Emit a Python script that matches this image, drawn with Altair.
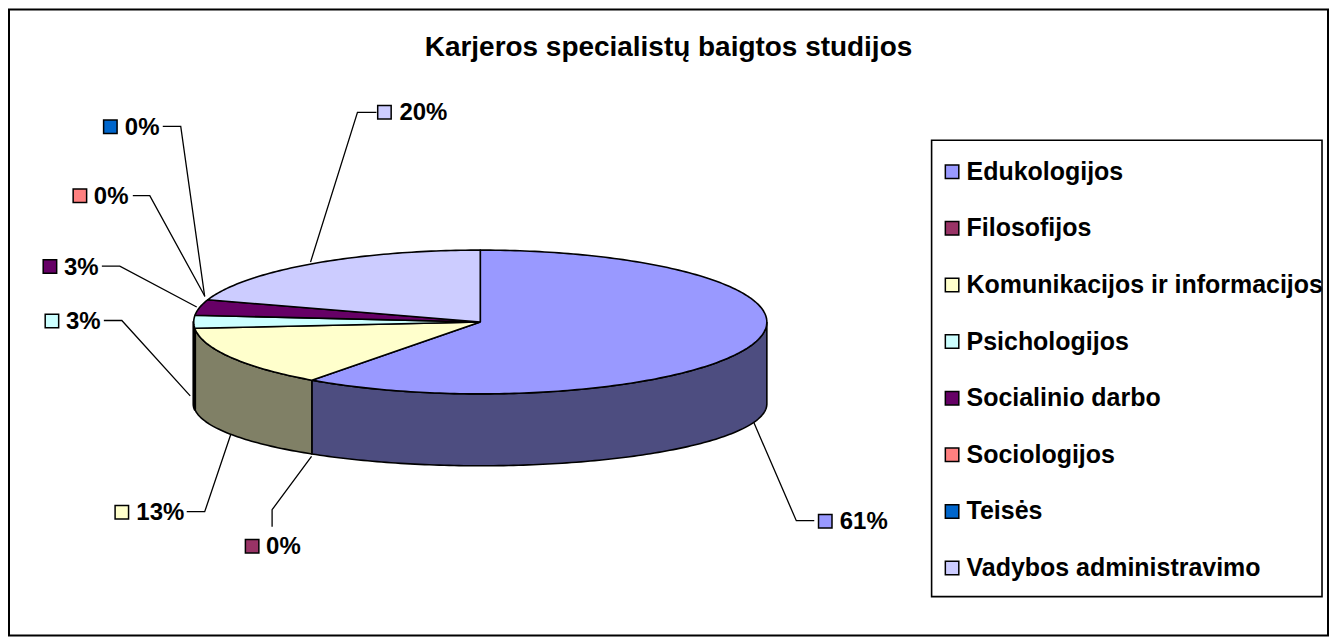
import math
import altair as alt
import pandas as pd

TITLE = "Karjeros specialistų baigtos studijos"
names = ["Edukologijos", "Filosofijos", "Komunikacijos ir informacijos", "Psichologijos",
         "Socialinio darbo", "Sociologijos", "Teisės", "Vadybos administravimo"]
shares = [60.0, 0.0, 13.6, 2.9, 3.5, 0.0, 0.0, 20.0]
labels = ["61%", "0%", "13%", "3%", "3%", "0%", "0%", "20%"]
top_colors = ["#9999FF", "#993366", "#FFFFCC", "#CCFFFF", "#660066", "#FF8080", "#0066CC", "#CCCCFF"]
wall_colors = ["#4D4D80", "#4D1A33", "#808066", "#668080", "#330033", "#804040", "#003366", "#666680"]

# label placement, in picture coordinates
swatch_x = [826.5, 252.5, 122, 52, 50, 80, 110.5, 385]
swatch_y = [521.5, 546.5, 512.5, 321, 266.5, 195.5, 126.5, 112]
text_x = [841, 266.5, 136.5, 66, 64, 94, 125, 400]
leader_x = [[815.5, 797.5, 754], [272.5, 272.5, 312], [187, 205, 231], [104, 122, 190.5],
            [102, 120, 197], [133, 150, 205], [163, 181, 205], [377, 358, 311]]
leader_y = [[521, 521, 420.5], [527, 510, 456.5], [512, 512, 435], [320.5, 320.5, 396],
            [266, 266, 307], [195.5, 195.5, 296], [126, 126, 296.5], [112, 112, 262]]

W, H = 1323, 629
CX, CY, A, B = 481, 322, 287, 72
BOT_CY, BOT_B = 404, 62
sx = alt.Scale(domain=[8, 8 + W], range=[0, W], nice=False, zero=False)
sy = alt.Scale(domain=[8, 8 + H], range=[0, H], nice=False, zero=False)
X = alt.X("x:Q", scale=sx, axis=None)
Y = alt.Y("y:Q", scale=sy, axis=None)


def top_pt(t):
    r = math.radians(t)
    return CX + A * math.sin(r), CY - B * math.cos(r)


def bot_pt(t):
    r = math.radians(t)
    return CX + A * math.sin(r), BOT_CY - BOT_B * math.cos(r)


def poly(points, fill, width=1.6):
    df = pd.DataFrame(points, columns=["x", "y"])
    df["i"] = range(len(df))
    return alt.Chart(df).mark_line(
        fill=fill, stroke="black", strokeWidth=width, strokeJoin="round", interpolate="linear"
    ).encode(x=X, y=Y, order="i:Q")


def arc(a0, a1, fn):
    n = max(2, int(abs(a1 - a0)) + 1)
    return [fn(a0 + (a1 - a0) * k / n) for k in range(n + 1)]


bounds = [0.0]
for s in shares:
    bounds.append(bounds[-1] + s * 3.6)

walls, tops = [], []
for i, s in enumerate(shares):
    if s <= 0:
        continue
    a0, a1 = bounds[i], bounds[i + 1]
    w0, w1 = max(a0, 90), min(a1, 270)
    if w1 > w0:
        pts = arc(w0, w1, top_pt) + arc(w1, w0, bot_pt)
        walls.append(poly(pts + pts[:1], wall_colors[i], 2.6 if w1 - w0 < 10 else 1.6))
    pts = [(CX, CY)] + arc(a0, a1, top_pt) + [(CX, CY)]
    tops.append(poly(pts, top_colors[i]))

frame = alt.Chart(pd.DataFrame({"x": [9], "x2": [1330], "y": [9], "y2": [636]})).mark_rect(
    fill="white", stroke="black", strokeWidth=2
).encode(x=X, x2="x2:Q", y=Y, y2="y2:Q")

legend_box = alt.Chart(pd.DataFrame({"x": [933], "x2": [1324], "y": [140], "y2": [597]})).mark_rect(
    fill="white", stroke="black", strokeWidth=1.6
).encode(x=X, x2="x2:Q", y=Y, y2="y2:Q")

leader_rows = []
for i, (lx, ly) in enumerate(zip(leader_x, leader_y)):
    for j, (px, py) in enumerate(zip(lx, ly)):
        leader_rows.append({"name": names[i], "x": px, "y": py, "i": j})
leaders = alt.Chart(pd.DataFrame(leader_rows)).mark_line(color="black", strokeWidth=1.3).encode(
    x=X, y=Y, detail="name:N", order="i:Q"
)

lab = pd.DataFrame({"name": names, "label": labels, "x": swatch_x, "y": swatch_y, "tx": text_x})
swatches = alt.Chart(lab).mark_square(size=182, opacity=1, stroke="black", strokeWidth=1.5).encode(
    x=X, y=Y,
    fill=alt.Fill("name:N", scale=alt.Scale(domain=names, range=top_colors), legend=alt.Legend(
        orient="none", legendX=933, legendY=151, title=None, padding=0,
        symbolType="square", symbolSize=182, symbolStrokeColor="black", symbolStrokeWidth=1.5,
        symbolOpacity=1, labelFont="Liberation Sans", labelFontWeight="bold", labelFontSize=25,
        labelColor="black", labelLimit=400, labelOffset=2, rowPadding=30.7, values=names,
    )),
)
texts = alt.Chart(lab).mark_text(
    align="left", baseline="middle", font="Liberation Sans", fontWeight="bold", fontSize=24, color="black", dy=1
).encode(x=alt.X("tx:Q", scale=sx, axis=None), y=Y, text="label:N")

chart = alt.layer(frame, legend_box, leaders, *walls, *tops, swatches, texts).properties(
    width=W, height=H, padding=0,
    autosize=alt.AutoSizeParams(type="none"),
    title=alt.TitleParams(TITLE, anchor="middle", offset=-54, font="Liberation Sans",
                          fontWeight="bold", fontSize=28, color="black"),
).configure_view(stroke=None)

chart.save("out.html", embed_options={"renderer": "svg", "actions": False})
